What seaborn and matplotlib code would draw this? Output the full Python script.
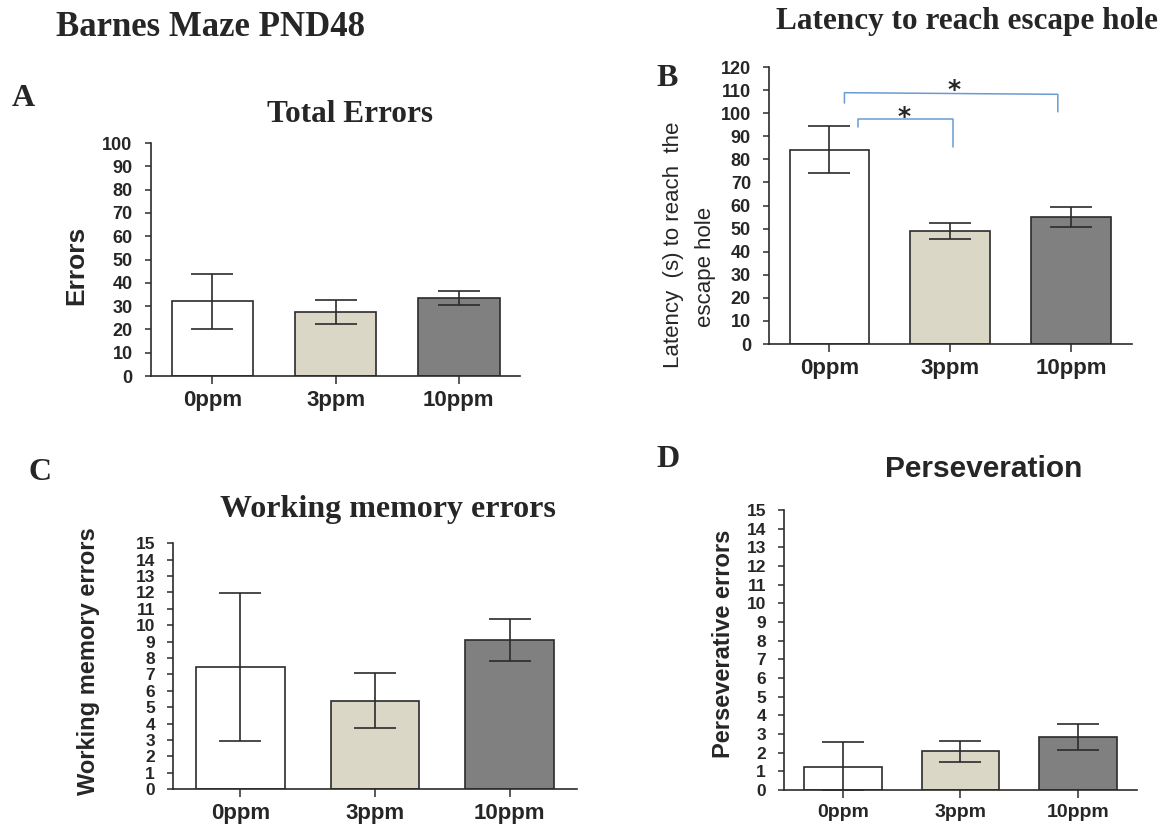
import matplotlib
matplotlib.use("Agg")
import matplotlib.pyplot as plt
import seaborn as sns

# groups and bar colours
groups = ["0ppm", "3ppm", "10ppm"]
bar_colors = ["#FFFFFF", "#DDD9C4", "#808080"]

# A: total errors (mean, sem)
total_mean = [32.0, 27.5, 33.5]
total_sem = [12.0, 5.0, 2.8]

# B: latency to reach escape hole
latency_mean = [84.2, 48.9, 55.0]
latency_sem = [10.2, 3.5, 4.5]

# C: working memory errors
wm_mean = [7.45, 5.4, 9.1]
wm_sem = [4.5, 1.7, 1.3]

# D: perseverative errors
pers_mean = [1.25, 2.07, 2.84]
pers_sem = [1.3, 0.55, 0.7]

# significance brackets on B: x ends, top y (left, right), bottom y (left, right)
bracket_x = [(0.124, 1.89), (0.24, 1.02)]
bracket_top = [(108.9, 108.2), (97.5, 97.5)]
bracket_bottom = [(104.4, 100.6), (93.9, 85.2)]
star_x = [1.03, 0.62]
star_y = [110.0, 98.4]

sns.set_style("ticks")
plt.rcParams["font.family"] = ["Liberation Sans", "DejaVu Sans"]
serif = ["Liberation Serif", "DejaVu Serif"]

fig = plt.figure(figsize=(11.61, 8.27), dpi=100)
W, H = 1161, 827


def px(x, y):
    return x / W, 1 - y / H


def panel(rect, means, sems, ymax, ystep, ytick_size, xtick_size):
    ax = fig.add_axes(rect)
    sns.barplot(x=groups, y=means, hue=groups, palette=bar_colors, legend=False,
                width=0.66, edgecolor="#2b2b2b", linewidth=1.2, ax=ax)
    ax.errorbar(range(len(groups)), means, yerr=sems, fmt="none", ecolor="#2b2b2b",
                elinewidth=1.2, capsize=15, capthick=1.2, zorder=3)
    ax.set_xlim(-0.5, 2.5)
    ax.set_ylim(0, ymax)
    ax.set_yticks(range(0, ymax + 1, ystep))
    sns.despine(ax=ax)
    for s in ["left", "bottom"]:
        ax.spines[s].set_linewidth(1.2)
        ax.spines[s].set_color("#2b2b2b")
    ax.tick_params(axis="y", length=4, width=1.1, pad=9, labelsize=ytick_size, color="#2b2b2b")
    ax.tick_params(axis="x", length=6, width=1.1, pad=4, labelsize=xtick_size, color="#2b2b2b")
    for lab in ax.get_xticklabels() + ax.get_yticklabels():
        lab.set_fontweight("bold")
    ax.set_xlabel("")
    ax.set_ylabel("")
    return ax


axA = panel([0.1297, 0.5453, 0.3186, 0.2817], total_mean, total_sem, 100, 10, 13, 16)
axB = panel([0.6624, 0.5840, 0.3122, 0.3349], latency_mean, latency_sem, 120, 10, 13, 16)
axC = panel([0.1490, 0.0459, 0.3480, 0.2971], wm_mean, wm_sem, 15, 1, 12.5, 16)
axD = panel([0.6753, 0.0447, 0.3040, 0.3386], pers_mean, pers_sem, 15, 1, 12.5, 14)

# brackets on B
for (x0, x1), (t0, t1), (b0, b1) in zip(bracket_x, bracket_top, bracket_bottom):
    axB.plot([x0, x0, x1, x1], [b0, t0, t1, b1], color="#6A9BD3", lw=1.1, clip_on=False)
for sx, sy in zip(star_x, star_y):
    axB.text(sx, sy, "*", ha="center", va="center", fontsize=18, fontweight="bold",
             family=["DejaVu Sans"])

# titles and panel letters
fig.text(*px(56, 27), "Barnes Maze PND48", family=serif, fontweight="bold",
         fontsize=25, ha="left", va="center")
for letter, (lx, ly) in zip("ABCD", [(12, 99), (656, 79), (29, 473), (656, 460)]):
    fig.text(*px(lx, ly), letter, family=serif, fontweight="bold", fontsize=23,
             ha="left", va="center")
fig.text(*px(350, 115), "Total Errors", family=serif, fontweight="bold",
         fontsize=22.5, ha="center", va="center")
fig.text(*px(967, 21), "Latency to reach escape hole", family=serif, fontweight="bold",
         fontsize=22.5, ha="center", va="center")
fig.text(*px(388, 510), "Working memory errors", family=serif, fontweight="bold",
         fontsize=23, ha="center", va="center")
fig.text(*px(984, 469), "Perseveration", fontweight="bold",
         fontsize=21.5, ha="center", va="center")

# y axis labels
fig.text(*px(76, 265), "Errors", fontweight="bold", fontsize=19,
         rotation=90, ha="center", va="center")
fig.text(*px(674, 245), "Latency  (s) to reach  the", fontsize=16,
         rotation=90, ha="center", va="center")
fig.text(*px(706, 267), "escape hole", fontsize=16,
         rotation=90, ha="center", va="center")
fig.text(*px(89, 661), "Working memory errors", fontweight="bold", fontsize=17,
         rotation=90, ha="center", va="center")
fig.text(*px(724, 644), "Perseverative errors", fontweight="bold", fontsize=17,
         rotation=90, ha="center", va="center")

fig.savefig("out.png", dpi=100)
